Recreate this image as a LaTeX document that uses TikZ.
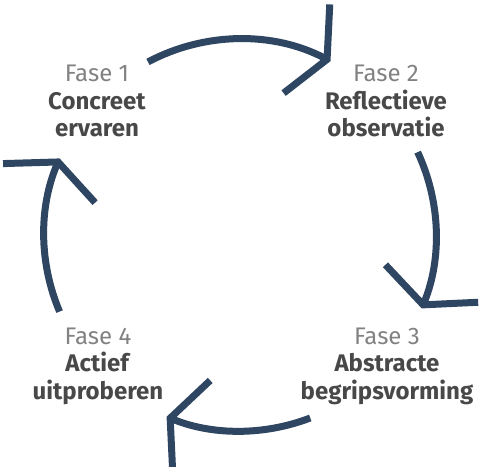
\documentclass[tikz,border=0pt]{standalone}
\usepackage{fontspec}
\setmainfont{Fira Sans}
\usetikzlibrary{arrows.meta}
\definecolor{cyclecol}{RGB}{46,70,97}
\definecolor{fasecol}{RGB}{130,130,130}
\definecolor{namecol}{RGB}{72,72,72}
\tikzstyle{Arrow} = [
line width=7pt,
draw=cyclecol,
-{Straight Barb[length=23pt, width=100pt]}]
\tikzstyle{Phase} = [
align=center,
font=\fontsize{24}{27.5}\selectfont,
text=namecol,
anchor=base]
\newcommand{\fasenr}[1]{{\color{fasecol}\mdseries Fase #1}}

\begin{document}
\begin{tikzpicture}[x=1pt, y=1pt]
    \useasboundingbox (0,0) rectangle (484,466);
    \coordinate (c) at (240,231);
    % base anchor sits on the last line
    \node [Phase] (1) at (97,329) {\fasenr{1}\\\textbf{Concreet}\\\textbf{ervaren}};
    \node [Phase] (2) at (386,329) {\fasenr{2}\\\textbf{Reflectieve}\\\textbf{observatie}};
    \node [Phase] (3) at (387,67) {\fasenr{3}\\\textbf{Abstracte}\\\textbf{begripsvorming}};
    \node [Phase] (4) at (98,67) {\fasenr{4}\\\textbf{Actief}\\\textbf{uitproberen}};
    \draw[Arrow] ([shift={(118:196)}]c) arc[start angle=118, end angle=62.5, radius=196];
    \draw[Arrow] ([shift={(25:196)}]c) arc[start angle=25, end angle=-22, radius=196];
    \draw[Arrow] ([shift={(-69:196)}]c) arc[start angle=-69, end angle=-112, radius=196];
    \draw[Arrow] ([shift={(203:196)}]c) arc[start angle=203, end angle=157, radius=196];
\end{tikzpicture}
\end{document}
